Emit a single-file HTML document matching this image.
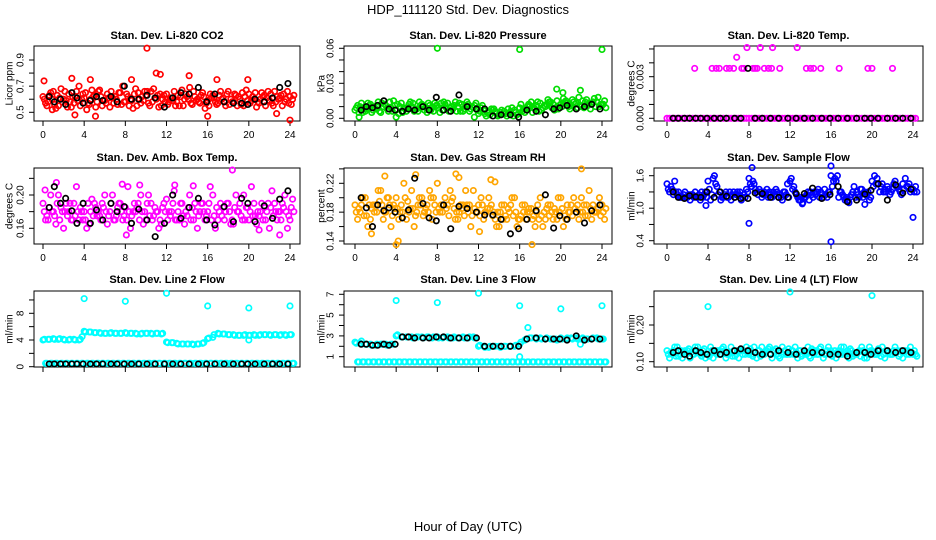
<!DOCTYPE html>
<html><head><meta charset="utf-8"><style>
body{margin:0;background:#fff}
svg{display:block;font-family:"Liberation Sans",sans-serif}
</style></head><body>
<svg id="c" width="936" height="540" viewBox="0 0 936 540" xmlns="http://www.w3.org/2000/svg">
<text x="468" y="14" text-anchor="middle" font-size="13">HDP_111120  Std. Dev. Diagnostics</text>
<text x="468" y="531" text-anchor="middle" font-size="13">Hour of Day (UTC)</text>
</svg>
<script>
// ---- data ----
const xTicks=[0,4,8,12,16,20,24];
const blackHours=[0.6,1.1,1.7,2.2,2.8,3.3,3.9,4.6,5.2,5.8,6.6,7.2,7.9,8.6,9.3,10.1,10.9,11.8,12.6,13.4,14.2,15.1,15.9,16.7,17.6,18.5,19.3,19.9,20.6,21.5,22.3,23.0,23.8];
const p1a=[0.62,0.58,0.66,0.55,0.60,0.64,0.57,0.70,0.61,0.56,0.63,0.67,0.59,0.54,0.62,0.65,0.58,0.60,0.68,0.57,0.63,0.66,0.60,0.55,0.64,0.61,0.58,0.67,0.62,0.56,0.60,0.65,0.59,0.63,0.57,0.61,0.66,0.58,0.62,0.55,0.64,0.60,0.57,0.63,0.59,0.66,0.61,0.58,0.62];
const p1b=[0.57,0.65,0.53,0.68,0.59,0.54,0.66,0.60,0.52,0.67,0.58,0.55,0.64,0.61,0.56,0.70,0.62,0.53,0.65,0.59,0.57,0.68,0.54,0.63,0.58,0.66,0.55,0.60,0.69,0.62,0.57,0.53,0.64,0.58,0.66,0.55,0.60,0.63,0.56,0.67,0.59,0.54,0.65,0.61,0.57,0.62,0.55,0.66,0.60];
const p1c=[0.60,0.63,0.56,0.61,0.66,0.58,0.62,0.55,0.65,0.60,0.54,0.62,0.57,0.66,0.60,0.56,0.64,0.59,0.55,0.62,0.66,0.58,0.63,0.60,0.56,0.59,0.63,0.55,0.60,0.66,0.58,0.62,0.55,0.61,0.63,0.58,0.56,0.64,0.60,0.62,0.57,0.65,0.60,0.55,0.64,0.58,0.63,0.60,0.56];
const p1d=[0.55,0.60,0.63,0.58,0.54,0.62,0.59,0.64,0.57,0.62,0.66,0.59,0.61,0.57,0.65,0.58,0.55,0.64,0.60,0.66,0.55,0.61,0.64,0.58,0.61,0.55,0.62,0.64,0.57,0.59,0.63,0.57,0.61,0.56,0.60,0.64,0.58,0.55,0.65,0.59,0.62,0.58,0.62,0.66,0.55,0.60,0.64,0.57,0.63];
const p1oh=[0.1,0.9,2.8,3.1,4.6,10.1,11.0,11.4,14.2,16.0,16.9,19.9,22.7,24.0,8.6,5.1];
const p1ov=[0.74,0.52,0.76,0.48,0.75,0.99,0.80,0.79,0.78,0.47,0.75,0.75,0.49,0.44,0.75,0.47];
const p1k=[0.62,0.58,0.60,0.56,0.65,0.61,0.57,0.59,0.62,0.59,0.62,0.58,0.70,0.60,0.60,0.63,0.61,0.54,0.61,0.65,0.64,0.69,0.58,0.64,0.58,0.57,0.57,0.56,0.60,0.58,0.61,0.69,0.72];
const p2a=[0.007,0.010,0.006,0.012,0.008,0.005,0.011,0.009,0.007,0.013,0.006,0.010,0.008,0.012,0.005,0.009,0.011,0.007,0.013,0.008,0.010,0.006,0.012,0.009,0.004,0.007,0.005,0.008,0.003,0.006,0.004,0.007,0.009,0.005,0.011,0.008,0.013,0.010,0.014,0.009,0.012,0.015,0.011,0.013,0.010,0.016,0.012,0.014,0.011];
const p2b=[0.011,0.005,0.013,0.007,0.014,0.010,0.006,0.015,0.004,0.009,0.012,0.006,0.014,0.007,0.011,0.013,0.005,0.012,0.009,0.014,0.006,0.011,0.008,0.013,0.009,0.002,0.008,0.004,0.007,0.002,0.009,0.003,0.006,0.010,0.005,0.014,0.009,0.016,0.012,0.008,0.017,0.010,0.014,0.018,0.009,0.013,0.017,0.010,0.015];
const p2c=[0.009,0.013,0.008,0.005,0.011,0.013,0.008,0.006,0.012,0.005,0.009,0.013,0.006,0.010,0.013,0.006,0.009,0.014,0.006,0.011,0.013,0.008,0.006,0.011,0.006,0.004,0.003,0.006,0.005,0.004,0.006,0.005,0.012,0.008,0.014,0.011,0.007,0.012,0.009,0.015,0.010,0.013,0.016,0.009,0.015,0.011,0.014,0.018,0.012];
const p2d=[0.005,0.008,0.011,0.009,0.006,0.012,0.014,0.011,0.010,0.008,0.014,0.008,0.011,0.009,0.007,0.011,0.013,0.009,0.010,0.006,0.012,0.014,0.010,0.007,0.011,0.005,0.007,0.002,0.004,0.008,0.002,0.004,0.008,0.012,0.009,0.006,0.011,0.014,0.007,0.011,0.014,0.008,0.012,0.011,0.014,0.008,0.010,0.012,0.009];
const p2oh=[8.0,16.0,24.0,19.6,21.9,20.2,0.4,4.0,11.6];
const p2ov=[0.060,0.059,0.059,0.025,0.024,0.022,0.001,0.001,0.001];
const p2k=[0.007,0.010,0.009,0.011,0.015,0.008,0.007,0.006,0.008,0.007,0.010,0.007,0.018,0.007,0.006,0.020,0.010,0.008,0.008,0.002,0.003,0.003,0.001,0.007,0.006,0.003,0.008,0.009,0.011,0.008,0.010,0.012,0.008];
const p3a=[0,0,0,0,0,0,0,0,0,0,0,0,0,0,0,0,0,0,0,0,0,0,0,0,0,0,0,0,0,0,0,0,0,0,0,0,0,0,0,0,0,0,0,0,0,0,0,0,0];
const p3b=[0,0,0,0,0,0,0,0,0,0,0,0,0,0,0,0,0,0,0,0,0,0,0,0,0,0,0,0,0,0,0,0,0,0,0,0,0,0,0,0,0,0,0,0,0,0,0,0,0];
const p3oh=[2.7,4.4,4.8,5.1,5.8,6.1,6.5,7.3,7.5,8.4,8.6,8.8,9.5,9.9,10.2,11.0,13.6,14.0,14.3,15.0,16.8,19.6,20.0,22.0,6.8,7.8,9.1,10.3,12.7];
const p3ov=[0.0036,0.0036,0.0036,0.0036,0.0036,0.0036,0.0036,0.0036,0.0036,0.0036,0.0036,0.0036,0.0036,0.0036,0.0036,0.0036,0.0036,0.0036,0.0036,0.0036,0.0036,0.0036,0.0036,0.0036,0.0044,0.0051,0.0051,0.0051,0.0051];
const p3k=[0,0,0,0,0,0,0,0,0,0,0,0,0.0036,0,0,0,0,0,0,0,0,0,0,0,0,0,0,0,0,0,0,0,0];
const p4a=[0.19,0.17,0.18,0.20,0.16,0.18,0.19,0.17,0.18,0.165,0.19,0.175,0.20,0.18,0.17,0.19,0.185,0.16,0.18,0.20,0.17,0.19,0.18,0.165,0.195,0.18,0.17,0.19,0.175,0.185,0.16,0.19,0.18,0.20,0.17,0.185,0.19,0.165,0.18,0.20,0.17,0.19,0.175,0.185,0.16,0.19,0.18,0.20,0.17];
const p4b=[0.17,0.20,0.165,0.185,0.19,0.17,0.21,0.18,0.16,0.195,0.175,0.19,0.165,0.20,0.185,0.17,0.21,0.18,0.19,0.165,0.20,0.175,0.16,0.19,0.18,0.205,0.17,0.165,0.20,0.19,0.18,0.17,0.21,0.16,0.19,0.18,0.165,0.20,0.175,0.185,0.21,0.165,0.19,0.18,0.205,0.17,0.19,0.16,0.195];
const p4c=[0.18,0.185,0.175,0.17,0.18,0.19,0.175,0.185,0.17,0.18,0.185,0.17,0.18,0.19,0.175,0.18,0.17,0.175,0.185,0.18,0.19,0.17,0.18,0.185,0.17,0.19,0.18,0.175,0.185,0.17,0.175,0.18,0.19,0.175,0.18,0.17,0.18,0.185,0.19,0.17,0.18,0.175,0.18,0.17,0.185,0.18,0.17,0.18,0.185];
const p4d=[0.175,0.18,0.19,0.18,0.175,0.17,0.18,0.17,0.19,0.175,0.18,0.185,0.175,0.17,0.19,0.175,0.18,0.19,0.17,0.18,0.175,0.185,0.17,0.18,0.175,0.17,0.19,0.18,0.17,0.18,0.19,0.175,0.17,0.185,0.175,0.19,0.17,0.18,0.17,0.185,0.175,0.18,0.17,0.19,0.175,0.18,0.185,0.175,0.18];
const p4oh=[0.2,1.3,7.7,8.1,12.8,14.6,18.4,23.0,21.0,9.4];
const p4ov=[0.206,0.215,0.213,0.152,0.212,0.211,0.23,0.152,0.158,0.212];
const p4k=[0.185,0.21,0.19,0.196,0.181,0.166,0.19,0.166,0.182,0.17,0.19,0.18,0.186,0.166,0.183,0.17,0.15,0.166,0.2,0.172,0.185,0.196,0.17,0.164,0.186,0.168,0.196,0.19,0.168,0.187,0.172,0.195,0.205];
const p5a=[0.19,0.18,0.20,0.17,0.19,0.21,0.18,0.16,0.20,0.19,0.17,0.21,0.18,0.20,0.19,0.17,0.22,0.18,0.19,0.20,0.17,0.19,0.18,0.21,0.19,0.17,0.20,0.18,0.16,0.19,0.18,0.20,0.17,0.19,0.18,0.16,0.20,0.17,0.19,0.18,0.20,0.17,0.19,0.18,0.20,0.19,0.17,0.18,0.19];
const p5b=[0.17,0.20,0.16,0.19,0.21,0.17,0.20,0.19,0.17,0.22,0.18,0.16,0.20,0.18,0.21,0.19,0.18,0.20,0.21,0.17,0.19,0.21,0.16,0.18,0.20,0.18,0.19,0.16,0.19,0.17,0.20,0.16,0.19,0.18,0.17,0.19,0.16,0.19,0.17,0.20,0.16,0.18,0.20,0.17,0.19,0.21,0.18,0.20,0.17];
const p5c=[0.18,0.19,0.175,0.185,0.18,0.19,0.20,0.175,0.185,0.18,0.195,0.185,0.19,0.175,0.18,0.20,0.185,0.19,0.175,0.185,0.18,0.175,0.19,0.185,0.175,0.18,0.185,0.17,0.18,0.175,0.19,0.18,0.175,0.17,0.185,0.18,0.175,0.185,0.18,0.17,0.185,0.19,0.175,0.19,0.18,0.175,0.19,0.185,0.18];
const p5d=[0.185,0.175,0.19,0.18,0.195,0.18,0.19,0.185,0.18,0.20,0.185,0.175,0.19,0.185,0.20,0.18,0.19,0.185,0.195,0.18,0.185,0.19,0.175,0.18,0.19,0.185,0.175,0.18,0.17,0.185,0.175,0.17,0.18,0.185,0.175,0.17,0.18,0.175,0.185,0.18,0.175,0.18,0.185,0.18,0.175,0.185,0.18,0.175,0.185];
const p5oh=[2.9,4.0,4.2,5.9,9.8,10.1,13.2,13.6,17.2,22.0,1.6,12.1];
const p5ov=[0.23,0.135,0.14,0.232,0.233,0.228,0.225,0.222,0.135,0.24,0.15,0.153];
const p5k=[0.2,0.186,0.16,0.19,0.182,0.186,0.18,0.172,0.183,0.227,0.192,0.172,0.168,0.19,0.157,0.188,0.185,0.18,0.176,0.176,0.17,0.15,0.157,0.17,0.182,0.204,0.158,0.175,0.17,0.18,0.165,0.182,0.19];
const p6a=[1.45,1.35,1.25,1.2,1.2,1.25,1.2,1.2,1.5,1.55,1.25,1.2,1.2,1.3,1.25,1.25,1.55,1.45,1.35,1.3,1.3,1.25,1.25,1.3,1.5,1.3,1.15,1.2,1.3,1.25,1.3,1.25,1.6,1.5,1.3,1.2,1.25,1.3,1.35,1.25,1.5,1.55,1.45,1.4,1.35,1.4,1.45,1.4,1.35];
const p6b=[1.3,1.5,1.2,1.3,1.15,1.3,1.15,1.3,1.15,1.45,1.15,1.3,1.15,1.25,1.15,1.35,1.4,1.3,1.2,1.35,1.2,1.3,1.15,1.45,1.35,1.2,1.1,1.3,1.2,1.35,1.2,1.3,1.5,1.2,1.2,1.1,1.4,1.2,1.3,1.15,1.6,1.3,1.35,1.25,1.5,1.3,1.55,1.3,1.4];
const p6c=[1.35,1.25,1.3,1.25,1.25,1.2,1.25,1.25,1.35,1.6,1.3,1.25,1.3,1.2,1.3,1.2,1.45,1.35,1.3,1.25,1.25,1.35,1.2,1.25,1.55,1.25,1.2,1.25,1.25,1.3,1.25,1.2,1.4,1.6,1.25,1.15,1.3,1.25,1.2,1.3,1.4,1.45,1.3,1.35,1.45,1.35,1.35,1.45,1.3];
const p6d=[1.4,1.3,1.2,1.2,1.25,1.2,1.3,1.2,1.25,1.4,1.2,1.2,1.25,1.3,1.2,1.3,1.5,1.25,1.25,1.2,1.3,1.2,1.3,1.2,1.4,1.15,1.2,1.15,1.3,1.2,1.35,1.3,1.55,1.3,1.15,1.2,1.2,1.35,1.25,1.2,1.45,1.4,1.3,1.3,1.4,1.25,1.4,1.35,1.3];
const p6oh=[8.0,16.0,24.0,8.3,16.0,3.8,13.2,19.3];
const p6ov=[0.72,0.38,0.83,1.75,1.78,1.05,1.08,1.07];
const p6k=[1.3,1.2,1.18,1.23,1.21,1.2,1.3,1.2,1.3,1.22,1.2,1.18,1.18,1.28,1.27,1.2,1.2,1.2,1.27,1.27,1.37,1.18,1.25,1.4,1.12,1.15,1.26,1.33,1.45,1.15,1.43,1.28,1.35];
const p7a=[4.0,4.1,4.2,4.1,4.1,4.0,4.1,4.0,5.3,5.2,5.1,5.1,5.0,5.0,5.0,5.0,5.1,5.0,5.0,4.9,5.0,5.0,5.0,4.9,3.7,3.6,3.5,3.4,3.4,3.4,3.4,3.5,4.2,4.4,5.0,4.9,4.8,4.8,4.7,4.7,4.7,4.8,4.7,4.8,4.8,4.8,4.7,4.8,4.8];
const p7b=[0.5,0.5,0.5,0.5,0.5,0.5,0.5,0.5,0.5,0.5,0.5,0.5,0.5,0.5,0.5,0.5,0.5,0.5,0.5,0.5,0.5,0.5,0.5,0.5,0.5,0.5,0.5,0.5,0.5,0.5,0.5,0.5,0.5,0.5,0.5,0.5,0.5,0.5,0.5,0.5,0.5,0.5,0.5,0.5,0.5,0.5,0.5,0.5,0.5];
const p7c=[4.1,4.1,4.1,4.2,4.0,4.1,4.0,4.1,5.2,5.2,5.1,5.0,5.0,5.1,5.0,5.0,5.0,5.0,4.9,5.0,5.0,4.9,5.0,5.0,3.6,3.6,3.4,3.4,3.4,3.3,3.4,3.6,4.3,4.8,4.9,4.9,4.8,4.7,4.7,4.8,4.7,4.7,4.8,4.8,4.7,4.8,4.8,4.7,4.8];
const p7d=[0.5,0.5,0.5,0.5,0.5,0.5,0.5,0.5,0.5,0.5,0.5,0.5,0.5,0.5,0.5,0.5,0.5,0.5,0.5,0.5,0.5,0.5,0.5,0.5,0.5,0.5,0.5,0.5,0.5,0.5,0.5,0.5,0.5,0.5,0.5,0.5,0.5,0.5,0.5,0.5,0.5,0.5,0.5,0.5,0.5,0.5,0.5,0.5,0.5];
const p7oh=[4.0,8.0,12.0,16.0,20.0,24.0,20.0,3.8];
const p7ov=[10.2,9.8,11.0,9.1,8.8,9.1,4.0,4.5];
const p7k=[0.4,0.4,0.4,0.4,0.4,0.4,0.4,0.4,0.4,0.4,0.4,0.4,0.4,0.4,0.4,0.4,0.4,0.4,0.4,0.4,0.4,0.4,0.4,0.4,0.4,0.4,0.4,0.4,0.4,0.4,0.4,0.4,0.4];
const p8a=[2.4,2.3,2.2,2.2,2.1,2.2,2.2,2.2,3.0,2.9,2.9,2.9,2.9,2.9,2.9,2.8,2.9,2.8,2.9,2.8,2.8,2.9,2.8,2.9,2.0,2.0,1.9,2.0,2.0,2.0,2.0,2.0,2.2,2.6,2.8,2.8,2.8,2.7,2.7,2.7,2.8,2.7,2.8,2.8,2.7,2.7,2.7,2.8,2.7];
const p8b=[0.5,0.5,0.5,0.5,0.5,0.5,0.5,0.5,0.5,0.5,0.5,0.5,0.5,0.5,0.5,0.5,0.5,0.5,0.5,0.5,0.5,0.5,0.5,0.5,0.5,0.5,0.5,0.5,0.5,0.5,0.5,0.5,0.5,0.5,0.5,0.5,0.5,0.5,0.5,0.5,0.5,0.5,0.5,0.5,0.5,0.5,0.5,0.5,0.5];
const p8c=[2.3,2.5,2.2,2.1,2.2,2.2,2.1,2.2,3.1,2.9,2.9,2.8,2.9,2.8,2.9,2.9,2.8,2.9,2.8,2.9,2.8,2.8,2.9,2.8,2.1,1.9,2.0,2.0,1.9,2.0,2.0,2.1,2.4,2.7,2.8,2.7,2.7,2.8,2.7,2.6,2.7,2.8,2.7,2.7,2.8,2.7,2.8,2.7,2.7];
const p8d=[0.5,0.5,0.5,0.5,0.5,0.5,0.5,0.5,0.5,0.5,0.5,0.5,0.5,0.5,0.5,0.5,0.5,0.5,0.5,0.5,0.5,0.5,0.5,0.5,0.5,0.5,0.5,0.5,0.5,0.5,0.5,0.5,0.5,0.5,0.5,0.5,0.5,0.5,0.5,0.5,0.5,0.5,0.5,0.5,0.5,0.5,0.5,0.5,0.5];
const p8oh=[4.0,8.0,12.0,16.0,20.0,24.0,16.8,16.0,21.9];
const p8ov=[6.4,6.2,7.1,5.9,5.6,5.9,3.8,1.0,2.2];
const p8k=[2.2,2.2,2.1,2.1,2.2,2.1,2.2,2.9,2.9,2.8,2.8,2.8,2.9,2.9,2.8,2.8,2.8,2.8,2.0,2.0,2.0,2.0,2.0,2.7,2.8,2.7,2.7,2.7,2.6,3.0,2.6,2.7,2.7];
const p9a=[0.13,0.12,0.14,0.11,0.13,0.12,0.14,0.13,0.12,0.11,0.13,0.14,0.12,0.13,0.11,0.13,0.12,0.14,0.13,0.12,0.14,0.13,0.11,0.13,0.12,0.14,0.13,0.12,0.11,0.13,0.14,0.12,0.13,0.11,0.14,0.12,0.13,0.12,0.14,0.11,0.13,0.12,0.14,0.13,0.12,0.13,0.11,0.13,0.12];
const p9b=[0.11,0.14,0.12,0.13,0.11,0.14,0.12,0.11,0.14,0.13,0.12,0.11,0.14,0.12,0.13,0.14,0.12,0.11,0.14,0.13,0.11,0.12,0.14,0.12,0.13,0.11,0.12,0.14,0.13,0.12,0.11,0.14,0.12,0.13,0.14,0.11,0.12,0.13,0.11,0.14,0.12,0.13,0.11,0.12,0.14,0.12,0.13,0.14,0.12];
const p9c=[0.12,0.13,0.115,0.125,0.135,0.12,0.125,0.135,0.115,0.125,0.12,0.13,0.125,0.115,0.13,0.12,0.135,0.125,0.115,0.125,0.12,0.135,0.125,0.12,0.13,0.125,0.115,0.125,0.135,0.12,0.125,0.13,0.115,0.125,0.12,0.13,0.115,0.125,0.13,0.12,0.125,0.135,0.12,0.125,0.13,0.115,0.125,0.12,0.13];
const p9d=[0.125,0.115,0.13,0.12,0.125,0.13,0.115,0.12,0.13,0.12,0.135,0.12,0.115,0.13,0.12,0.125,0.115,0.13,0.12,0.135,0.13,0.115,0.12,0.135,0.12,0.13,0.125,0.115,0.12,0.135,0.12,0.125,0.13,0.12,0.125,0.135,0.12,0.115,0.125,0.13,0.12,0.115,0.13,0.12,0.125,0.13,0.12,0.125,0.115];
const p9oh=[4.0,12.0,20.0];
const p9ov=[0.25,0.29,0.28];
const p9k=[0.125,0.13,0.12,0.115,0.13,0.125,0.12,0.13,0.12,0.125,0.13,0.135,0.13,0.125,0.12,0.12,0.13,0.125,0.12,0.13,0.125,0.125,0.12,0.12,0.115,0.125,0.125,0.12,0.13,0.13,0.125,0.13,0.125];
const yTicks1=[0.5,0.6,0.7,0.8,0.9], yLab1=["0.5","","0.7","","0.9"];
const yTicks2=[0,0.01,0.02,0.03,0.04,0.05,0.06], yLab2=["0.00","","","0.03","","","0.06"];
const yTicks3=[0,0.001,0.002,0.003,0.004,0.005], yLab3=["0.000","","","0.003","",""];
const yTicks4=[0.16,0.18,0.20,0.22], yLab4=["0.16","","0.20",""];
const yTicks5=[0.14,0.16,0.18,0.20,0.22,0.24], yLab5=["0.14","","0.18","","0.22",""];
const yTicks6=[0.4,0.7,1.0,1.3,1.6], yLab6=["0.4","","1.0","","1.6"];
const yTicks7=[0,2,4,6,8,10], yLab7=["0","","4","","8",""];
const yTicks8=[1,2,3,4,5,6,7], yLab8=["1","","3","","5","","7"];
const yTicks9=[0.10,0.15,0.20,0.25], yLab9=["0.10","","0.20",""];

// ---- layout ----
const NS="http://www.w3.org/2000/svg";
const svg=document.getElementById('c');
function mk(tag,attrs,parent){const e=document.createElementNS(NS,tag);for(const k in attrs)e.setAttribute(k,attrs[k]);(parent||svg).appendChild(e);return e;}
const cols=[{bl:34,br:300,x0:43,x1:290,lab:10},{bl:344,br:612,x0:355,x1:602,lab:322},{bl:654,br:923,x0:667,x1:913,lab:632}];
const rows=[{bt:46,bb:121,title:39},{bt:168,bb:244,title:161},{bt:291,bb:367,title:283}];
const panels=[
 {name:"co2",title:"Stan. Dev. Li-820 CO2",yl:"Licor ppm",c:0,r:0,col:"#ff0000",v0:0.5,p0:112.3,v1:0.9,p1:60,s:[p1a,p1b,p1c,p1d],oh:p1oh,ov:p1ov,k:p1k,t:yTicks1,l:yLab1},
 {name:"pressure",title:"Stan. Dev. Li-820 Pressure",yl:"kPa",c:1,r:0,col:"#00dd00",v0:0,p0:118.3,v1:0.06,p1:48.3,s:[p2a,p2b,p2c,p2d],oh:p2oh,ov:p2ov,k:p2k,t:yTicks2,l:yLab2},
 {name:"temp",title:"Stan. Dev. Li-820 Temp.",yl:"degrees C",c:2,r:0,col:"#ff00ff",v0:0,p0:118.3,v1:0.003,p1:76.7,s:[p3a,p3b],oh:p3oh,ov:p3ov,k:p3k,t:yTicks3,l:yLab3},
 {name:"amb-box-temp",title:"Stan. Dev. Amb. Box Temp.",yl:"degrees C",c:0,r:1,col:"#ff00ff",v0:0.16,p0:228.3,v1:0.20,p1:195,s:[p4a,p4b,p4c,p4d],oh:p4oh,ov:p4ov,k:p4k,t:yTicks4,l:yLab4},
 {name:"gas-stream-rh",title:"Stan. Dev. Gas Stream RH",yl:"percent",c:1,r:1,col:"#ffa500",v0:0.14,p0:241,v1:0.22,p1:183.3,s:[p5a,p5b,p5c,p5d],oh:p5oh,ov:p5ov,k:p5k,t:yTicks5,l:yLab5},
 {name:"sample-flow",title:"Stan. Dev. Sample Flow",yl:"ml/min",c:2,r:1,col:"#0000ff",v0:0.4,p0:240.7,v1:1.6,p1:175.7,s:[p6a,p6b,p6c,p6d],oh:p6oh,ov:p6ov,k:p6k,t:yTicks6,l:yLab6},
 {name:"line2-flow",title:"Stan. Dev. Line 2 Flow",yl:"ml/min",c:0,r:2,col:"#00ffff",v0:0,p0:366.7,v1:8,p1:313.3,s:[p7a,p7b,p7c,p7d],oh:p7oh,ov:p7ov,k:p7k,t:yTicks7,l:yLab7},
 {name:"line3-flow",title:"Stan. Dev. Line 3 Flow",yl:"ml/min",c:1,r:2,col:"#00ffff",v0:1,p0:356.7,v1:7,p1:294.3,s:[p8a,p8b,p8c,p8d],oh:p8oh,ov:p8ov,k:p8k,t:yTicks8,l:yLab8},
 {name:"line4-flow",title:"Stan. Dev. Line 4 (LT) Flow",yl:"ml/min",c:2,r:2,col:"#00ffff",v0:0.10,p0:361.7,v1:0.20,p1:325,s:[p9a,p9b,p9c,p9d],oh:p9oh,ov:p9ov,k:p9k,t:yTicks9,l:yLab9}
];
const offs=[0,0.25,0.125,0.375];
panels.forEach(p=>{
 const C=cols[p.c],R=rows[p.r];
 const xs=h=>C.x0+(C.x1-C.x0)*h/24;
 const ys=v=>p.p0+(p.p1-p.p0)*(v-p.v0)/(p.v1-p.v0);
 const g=mk('g',{});
 
 
 const tt=mk('text',{x:(C.bl+C.br)/2,y:R.title,'text-anchor':'middle','font-size':'11','font-weight':'bold'},g);tt.textContent=p.title;
 
 
 const yc=(R.bt+R.bb)/2;
 const yl=mk('text',{x:C.lab,y:yc,'text-anchor':'middle','font-size':'10',transform:`rotate(-90 ${C.lab} ${yc})`,'dominant-baseline':'middle'},g);yl.textContent=p.yl;
 
 
 const box=mk('rect',{x:C.bl,y:R.bt,width:C.br-C.bl,height:R.bb-R.bt,fill:'none',stroke:'#000','stroke-width':'1'},g);
 
 
 p.t.forEach((v,i)=>{
  const y=ys(v);
  mk('line',{x1:C.bl-5,x2:C.bl,y1:y,y2:y,stroke:'#000'},g);
  if(p.l[i]){const tx=C.bl-13;const t=mk('text',{x:tx,y:y,'text-anchor':'middle','font-size':'10','dominant-baseline':'middle',transform:`rotate(-90 ${tx} ${y})`},g);t.textContent=p.l[i];
   
   }
 });
 xTicks.forEach(h=>{
  const x=xs(h);
  mk('line',{x1:x,x2:x,y1:R.bb,y2:R.bb+5,stroke:'#000'},g);
  if(p.r<2){const t=mk('text',{x:x,y:R.bb+17,'text-anchor':'middle','font-size':'10'},g);t.textContent=h;
   
   }
 });
 const dot=(h,v,col,nm)=>{const c=mk('circle',{cx:xs(h),cy:ys(v),r:2.7,fill:'none',stroke:col,'stroke-width':'1.7'},g);
  
  };
 p.s.forEach((arr,j)=>arr.forEach((v,i)=>dot(i*0.5+offs[j],v,p.col,p.name+'-point')));
 p.oh.forEach((h,i)=>dot(h,p.ov[i],p.col,p.name+'-outlier'));
 p.k.forEach((v,i)=>dot(blackHours[i],v,'#000',p.name+'-hourly-point'));
});
</script>
</body></html>
